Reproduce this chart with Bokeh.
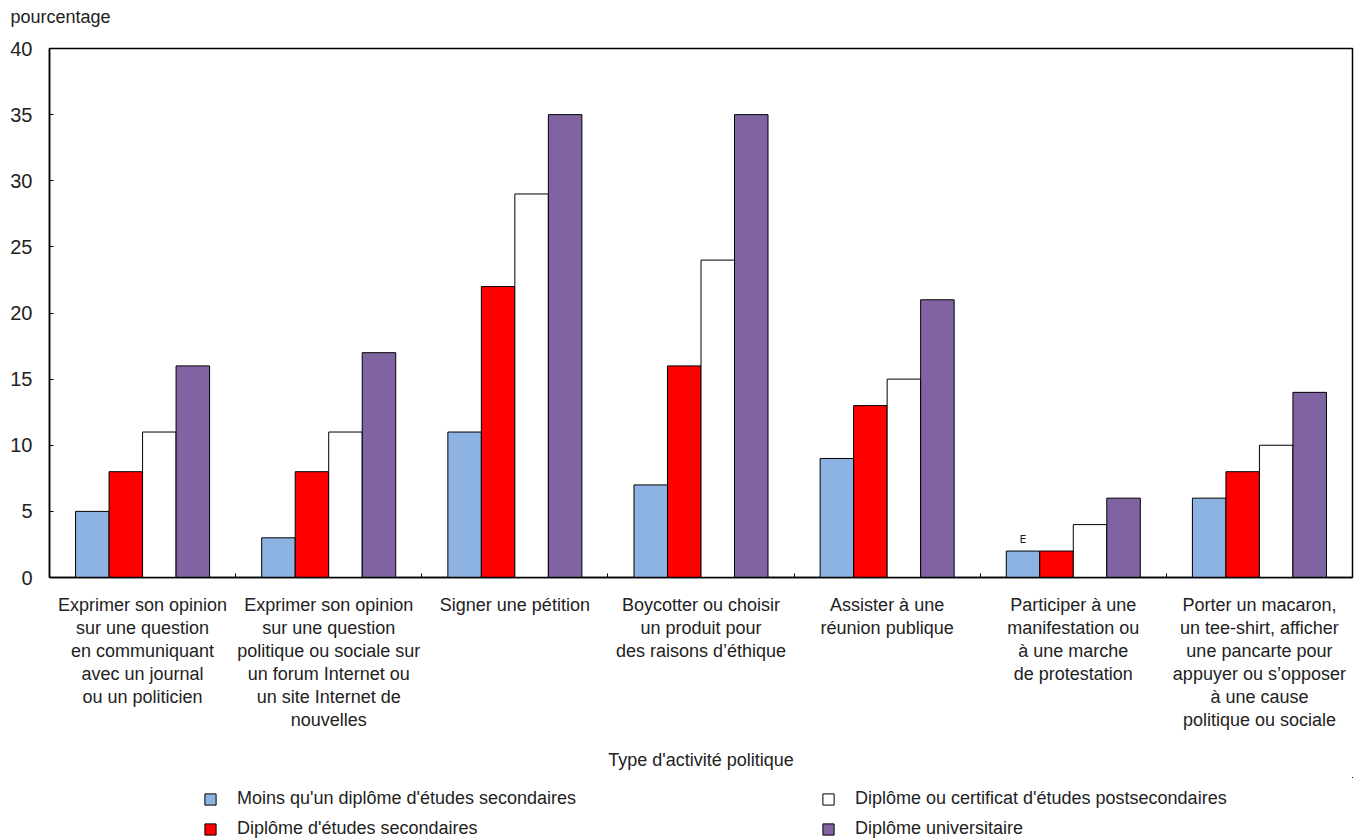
from bokeh.plotting import figure
from bokeh.layouts import column
from bokeh.models import FixedTicker, Range1d, Legend, LegendItem, ColumnDataSource, Title
from bokeh.embed import file_html
from bokeh.resources import INLINE
from bokeh.core.properties import value

# ---------------- data ----------------
categories = [
    "Exprimer son opinion\nsur une question\nen communiquant\navec un journal\nou un politicien",
    "Exprimer son opinion\nsur une question\npolitique ou sociale sur\nun forum Internet ou\nun site Internet de\nnouvelles",
    "Signer une pétition",
    "Boycotter ou choisir\nun produit pour\ndes raisons d’éthique",
    "Assister à une\nréunion publique",
    "Participer à une\nmanifestation ou\nà une marche\nde protestation",
    "Porter un macaron,\nun tee-shirt, afficher\nune pancarte pour\nappuyer ou s’opposer\nà une cause\npolitique ou sociale",
]
series_names = [
    "Moins qu'un diplôme d'études secondaires",
    "Diplôme d'études secondaires",
    "Diplôme ou certificat d'études postsecondaires",
    "Diplôme universitaire",
]
moins_secondaire = [5, 3, 11, 7, 9, 2, 6]
diplome_secondaire = [8, 8, 22, 16, 13, 2, 8]
postsecondaire = [11, 11, 29, 24, 15, 4, 10]
universitaire = [16, 17, 35, 35, 21, 6, 14]
flags_moins = ["", "", "", "", "", "E", ""]
y_ticks = [0, 5, 10, 15, 20, 25, 30, 35, 40]
y_label = "pourcentage"
x_label = "Type d'activité politique"

# ---------------- style ----------------
colors = ["#8DB3E2", "#FF0000", "#FFFFFF", "#8064A2"]
FONT = "Liberation Sans"
TXT = "#222222"
bar_w = 0.18
offsets = [-0.27, -0.09, 0.09, 0.27]

n = len(categories)
centers = [i + 0.5 for i in range(n)]

p = figure(frame_width=1303, frame_height=529, output_backend="svg", toolbar_location=None,
           x_range=Range1d(0, n), y_range=Range1d(0, 40),
           min_border_left=49, min_border_right=4, min_border_top=48, min_border_bottom=200)
p.xgrid.visible = False
p.ygrid.visible = False
p.outline_line_color = "black"
p.outline_line_width = 1.5
p.background_fill_color = "white"
p.border_fill_color = "white"

# title used as y label at top-left, with a blank spacer panel below it
p.title.text = y_label
p.title.align = "left"
p.title.offset = -39
p.title.text_font = FONT
p.title.text_font_size = "18px"
p.title.text_font_style = "normal"
p.title.text_color = TXT
p.title.standoff = 0
p.add_layout(Title(text=" ", text_font=FONT, text_font_size="18px", standoff=0), "above")

all_series = [moins_secondaire, diplome_secondaire, postsecondaire, universitaire]
sources = []
for k, vals in enumerate(all_series):
    src = ColumnDataSource(dict(x=[c + offsets[k] for c in centers], top=vals))
    sources.append(src)
    p.vbar(x="x", top="top", bottom=0, width=bar_w, source=src,
           fill_color=colors[k], line_color="black", line_width=1)

# E flag
fsrc = ColumnDataSource(dict(x=[c + offsets[0] for c in centers],
                             y=[v + 0.9 for v in moins_secondaire], t=flags_moins))
p.text(x="x", y="y", text="t", source=fsrc, text_align="center",
       text_baseline="alphabetic", text_font=value("DejaVu Sans"),
       text_font_size="11px", text_color=TXT)

# y axis
ya = p.yaxis[0]
ya.ticker = FixedTicker(ticks=y_ticks, minor_ticks=[])
ya.major_tick_in = 4
ya.major_tick_out = 0
ya.major_tick_line_color = "black"
ya.minor_tick_line_color = None
ya.axis_line_color = "black"
ya.axis_line_width = 1.5
ya.major_label_text_font = FONT
ya.major_label_text_font_size = "20px"
ya.major_label_text_color = TXT
ya.major_label_standoff = 17

# x axis
xa = p.xaxis[0]
xa.ticker = FixedTicker(ticks=centers, minor_ticks=[float(i) for i in range(1, n)])
xa.major_label_overrides = {c: lab for c, lab in zip(centers, categories)}
xa.major_tick_line_color = None
xa.minor_tick_in = 4
xa.minor_tick_out = 0
xa.minor_tick_line_color = "black"
xa.axis_line_color = "black"
xa.axis_line_width = 1.5
xa.major_label_text_font = FONT
xa.major_label_text_font_size = "18px"
xa.major_label_text_color = TXT
xa.major_label_text_line_height = 1.15
xa.major_label_standoff = 11
xa.axis_label = x_label
xa.axis_label_text_font = FONT
xa.axis_label_text_font_size = "18px"
xa.axis_label_text_font_style = "normal"
xa.axis_label_text_color = TXT
xa.axis_label_standoff = 17

# ---------------- legend strip (same data, view range kept empty) ----------------
pl = figure(width=1356, height=63, output_backend="svg", toolbar_location=None,
            x_range=Range1d(-100, -99), y_range=Range1d(-100, -99), min_border=0)
pl.axis.visible = False
pl.grid.visible = False
pl.outline_line_color = None
pl.border_fill_color = "white"
pl.background_fill_color = "white"
leg_renderers = []
for k in range(4):
    leg_renderers.append(pl.vbar(x="x", top="top", bottom=0, width=bar_w, source=sources[k],
                                 fill_color=colors[k], line_color="black", line_width=1))

legend = Legend(
    items=[LegendItem(label=s, renderers=[r]) for s, r in zip(series_names, leg_renderers)],
    orientation="vertical", nrows=2, location=(154, 1),
    glyph_width=14, glyph_height=14, label_standoff=20, label_width=575,
    spacing=9, padding=0, margin=0,
    border_line_color=None, background_fill_alpha=0,
    label_text_font=FONT, label_text_font_size="18px", label_text_color=TXT,
)
pl.add_layout(legend, "center")

layout = column(p, pl, spacing=0)
open("out.html", "w").write(file_html(layout, INLINE))
